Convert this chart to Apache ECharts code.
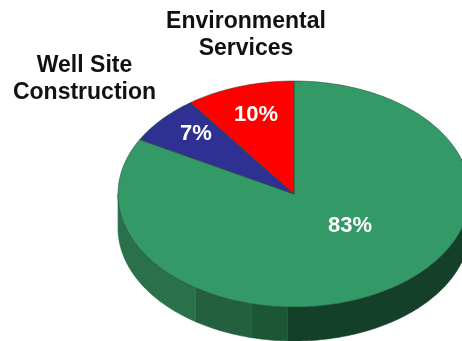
<!DOCTYPE html>
<html>
<head>
<meta charset="utf-8">
<style>html,body{margin:0;padding:0;background:#fff}#chart{width:462px;height:341px}</style>
<script src="https://cdn.jsdelivr.net/npm/echarts@6/dist/echarts.min.js"></script>
</head>
<body>
<div id="chart"></div>
<script>
// Revenue share by business line, clockwise from twelve o'clock
const categories = ['Other', 'Well Site Construction', 'Environmental Services'];
const shares = [83, 7, 10];
const shareLabels = ['83%', '7%', '10%'];

// Appearance of the tilted disc
const sliceColors = ['#339966', '#2e3192', '#ff0000'];
const rimBands = [
  { from: 90, to: 182, color: '#143f28' },
  { from: 182, to: 194, color: '#1b5734' },
  { from: 194, to: 214, color: '#22603e' },
  { from: 214, to: 270, color: '#2a704a' }
];
const disc = { cx: 294, cy: 194, rx: 176, ry: 113, depth: 34 };
const labelSpots = [[350, 226], [196, 134], [256, 115]];
const captions = [
  { lines: ['Well Site', 'Construction'], x: 84.5, y: 66 },
  { lines: ['Environmental', 'Services'], x: 246, y: 21.5 }
];
const captionLeading = 27;
const captionFont = 'bold 23px "Liberation Sans", Arial, sans-serif';

const total = shares.reduce((a, b) => a + b, 0);
const rad = (deg) => (deg * Math.PI) / 180;

// Point on the tilted rim; angle runs clockwise from the top
function rimPoint(deg, drop) {
  return [
    disc.cx + disc.rx * Math.sin(rad(deg)),
    disc.cy - disc.ry * Math.cos(rad(deg)) + (drop || 0)
  ];
}

function arc(from, to, drop) {
  const steps = Math.max(2, Math.ceil(Math.abs(to - from)));
  const pts = [];
  for (let i = 0; i <= steps; i++) pts.push(rimPoint(from + ((to - from) * i) / steps, drop));
  return pts;
}

function renderRim(params) {
  const band = rimBands[params.dataIndex];
  const points = arc(band.from, band.to, 0).concat(arc(band.to, band.from, disc.depth));
  return {
    type: 'polygon',
    shape: { points },
    style: { fill: band.color, stroke: band.color, lineWidth: 0.6 }
  };
}

function renderSlice(params, api) {
  const i = params.dataIndex;
  const before = shares.slice(0, i).reduce((a, b) => a + b, 0);
  const start = (before / total) * 360;
  const end = start + (api.value(0) / total) * 360;
  const points = [[disc.cx, disc.cy]].concat(arc(start, end, 0));
  return {
    type: 'polygon',
    shape: { points },
    style: { fill: sliceColors[i], stroke: '#1f3d2c', lineWidth: 0.5 }
  };
}

function renderShareLabel(params) {
  const i = params.dataIndex;
  return {
    type: 'text',
    style: {
      x: labelSpots[i][0],
      y: labelSpots[i][1],
      text: shareLabels[i],
      fill: '#ffffff',
      font: 'bold 22px "Liberation Sans", Arial, sans-serif',
      align: 'center',
      verticalAlign: 'middle'
    }
  };
}

function renderCaption(params) {
  const c = captions[params.dataIndex];
  return {
    type: 'group',
    children: c.lines.map((line, k) => ({
      type: 'text',
      style: {
        x: c.x,
        y: c.y + k * captionLeading,
        text: line,
        fill: '#111111',
        font: captionFont,
        align: 'center',
        verticalAlign: 'middle'
      }
    }))
  };
}

const chart = echarts.init(document.getElementById('chart'), null, { renderer: 'canvas' });
chart.setOption({
  animation: false,
  backgroundColor: '#ffffff',
  series: [
    { type: 'custom', coordinateSystem: 'none', silent: true, renderItem: renderRim, data: rimBands.map((b) => [b.to - b.from]) },
    {
      type: 'custom',
      coordinateSystem: 'none',
      silent: true,
      renderItem: renderSlice,
      data: shares.map((v, i) => ({ name: categories[i], value: [v] }))
    },
    { type: 'custom', coordinateSystem: 'none', silent: true, renderItem: renderShareLabel, data: shares.map((v) => [v]) },
    { type: 'custom', coordinateSystem: 'none', silent: true, renderItem: renderCaption, data: captions.map((c, i) => [i]) }
  ]
});
</script>
</body>
</html>
